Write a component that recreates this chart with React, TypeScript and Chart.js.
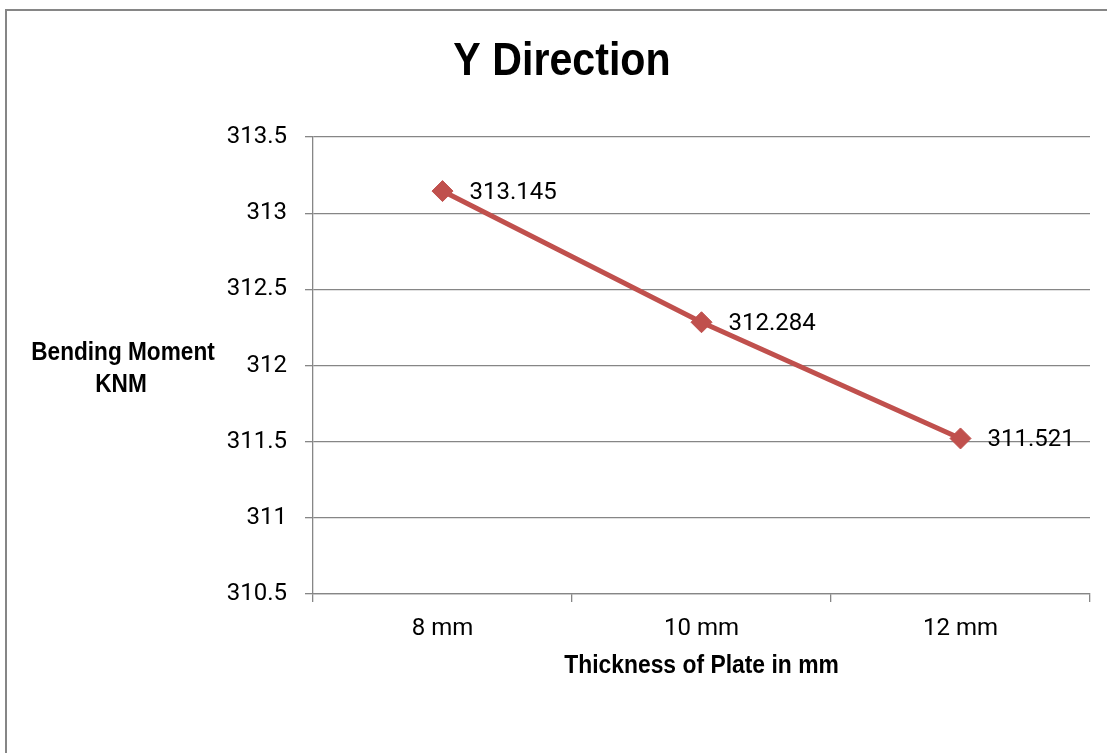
import React, { useEffect, useRef } from "react";
import { Chart, registerables } from "chart.js";

Chart.register(...registerables);

const categories = ["8 mm", "10 mm", "12 mm"];
const bendingMoment = [313.145, 312.284, 311.521];
const yMin = 310.5;
const yMax = 313.5;
const yStep = 0.5;
const chartTitle = "Y Direction";
const xTitle = "Thickness of Plate in mm";
const yTitleLines = ["Bending Moment", "KNM"];

const W = 1107;
const H = 753;
const GRAY = "#868686";
const RED = "#C0504D";
const BOLDFONT = '"Liberation Sans", Arial, sans-serif';
const TICKFONT = "Roboto, sans-serif";

function narrowText(ctx: any, text: string, x: number, y: number, sx: number) {
  ctx.save();
  ctx.translate(x, y);
  ctx.scale(sx, 1);
  ctx.fillText(text, 0, 0);
  ctx.restore();
}

const decorPlugin = {
  id: "decor",
  beforeDraw(chart: any) {
    const ctx = chart.ctx;
    ctx.save();
    ctx.fillStyle = "#fff";
    ctx.fillRect(0, 0, W, H);
    ctx.strokeStyle = GRAY;
    ctx.lineWidth = 2;
    ctx.strokeRect(6, 10, W + 50, H + 50);
    ctx.restore();
  },
  afterDatasetsDraw(chart: any) {
    const ctx = chart.ctx;
    ctx.save();
    ctx.fillStyle = "#000";
    ctx.font = `24px ${TICKFONT}`;
    ctx.textAlign = "left";
    ctx.textBaseline = "middle";
    const meta = chart.getDatasetMeta(0);
    meta.data.forEach((pt: any, i: number) => {
      ctx.fillText(String(bendingMoment[i]), pt.x + 27, pt.y + 2);
    });
    ctx.restore();
  },
  afterDraw(chart: any) {
    const ctx = chart.ctx;
    const area = chart.chartArea;
    ctx.save();
    ctx.fillStyle = "#000";
    ctx.textBaseline = "alphabetic";
    ctx.textAlign = "center";
    ctx.font = `bold 46px ${BOLDFONT}`;
    narrowText(ctx, chartTitle, 562, 75, 0.895);
    ctx.font = `bold 26px ${BOLDFONT}`;
    narrowText(ctx, xTitle, (area.left + area.right) / 2, 673, 0.88);
    narrowText(ctx, yTitleLines[0], 123, 360, 0.87);
    narrowText(ctx, yTitleLines[1], 121, 392, 0.87);
    ctx.restore();
  },
};

export default function App() {
  const ref = useRef<HTMLCanvasElement | null>(null);
  useEffect(() => {
    if (!ref.current) return;
    const chart = new Chart(ref.current, {
      type: "line",
      data: {
        labels: categories,
        datasets: [
          {
            label: "Bending Moment",
            data: bendingMoment,
            borderColor: RED,
            backgroundColor: RED,
            borderWidth: 5,
            pointStyle: "rectRot",
            pointRadius: 10.5,
            pointBorderWidth: 1,
            pointBorderColor: RED,
            pointBackgroundColor: RED,
            tension: 0,
          },
        ],
      },
      options: {
        animation: false,
        responsive: false,
        devicePixelRatio: 1,
        layout: { padding: { left: 0, top: 137, right: 17, bottom: 59 } },
        plugins: {
          legend: { display: false },
          title: { display: false },
          tooltip: { enabled: false },
        },
        scales: {
          x: {
            type: "category",
            offset: true,
            grid: {
              offset: true,
              drawOnChartArea: false,
              drawTicks: true,
              tickLength: 8,
              color: GRAY,
              lineWidth: 1.3,
            },
            border: { color: GRAY, width: 1.3 },
            ticks: {
              font: { family: TICKFONT, size: 24 },
              color: "#000",
              padding: 13,
              maxRotation: 0,
            },
            afterFit: (s: any) => {
              s.height = 100;
            },
          },
          y: {
            min: yMin,
            max: yMax,
            grid: {
              color: GRAY,
              lineWidth: 1.3,
              tickLength: 8,
              drawTicks: true,
            },
            border: { color: GRAY, width: 1.3 },
            ticks: {
              stepSize: yStep,
              font: { family: TICKFONT, size: 24 },
              color: "#000",
              padding: 18,
              callback: (v: any) => String(Number(v)),
            },
            afterFit: (s: any) => {
              s.width = 313;
            },
          },
        },
      },
      plugins: [decorPlugin],
    });
    return () => chart.destroy();
  }, []);
  return (
    <div style={{ position: "absolute", left: 0, top: 0, width: W, height: H }}>
      <canvas ref={ref} width={W} height={H} style={{ display: "block", width: W, height: H }} />
    </div>
  );
}
